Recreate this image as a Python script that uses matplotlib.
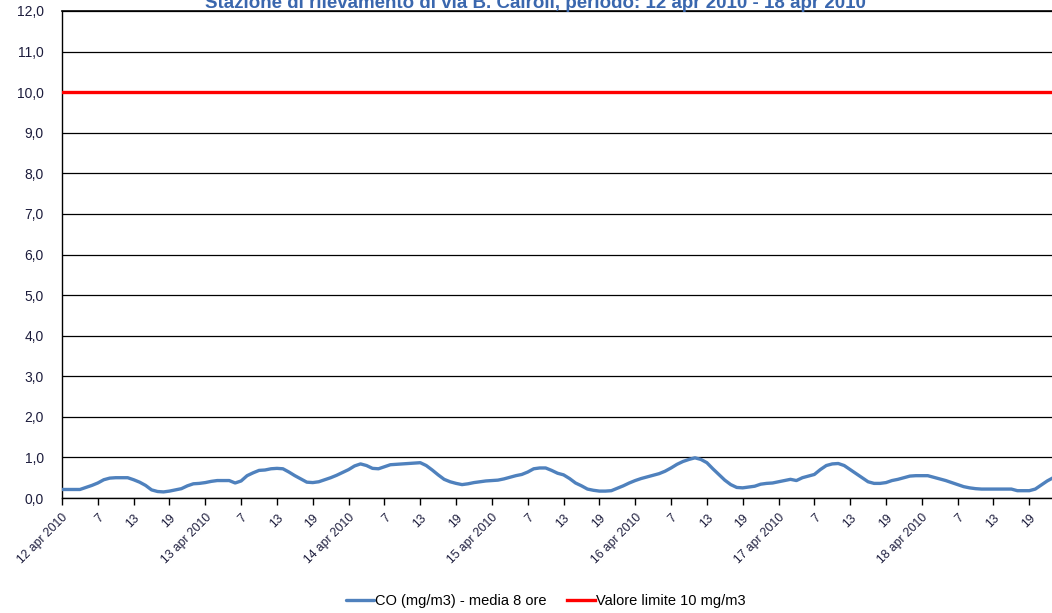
import numpy as np
import matplotlib
matplotlib.use("Agg")
import matplotlib.pyplot as plt
import matplotlib.ticker as mticker

# hourly CO 8-hour moving average (mg/m3), 12 apr 2010 01:00 onwards
co_values = [
    0.21, 0.21, 0.21, 0.21, 0.26, 0.31, 0.37, 0.45, 0.49, 0.50, 0.50, 0.50,
    0.45, 0.39, 0.31, 0.20, 0.16, 0.15, 0.17, 0.20, 0.23, 0.30, 0.35, 0.36,
    0.38, 0.41, 0.43, 0.43, 0.43, 0.37, 0.42, 0.55, 0.62, 0.68, 0.69, 0.72,
    0.73, 0.72, 0.64, 0.55, 0.47, 0.39, 0.38, 0.40, 0.45, 0.50, 0.56, 0.63,
    0.70, 0.79, 0.84, 0.80, 0.73, 0.72, 0.77, 0.82, 0.83, 0.84, 0.85, 0.86,
    0.87, 0.80, 0.69, 0.57, 0.46, 0.40, 0.36, 0.33, 0.35, 0.38, 0.40, 0.42,
    0.43, 0.44, 0.47, 0.51, 0.55, 0.58, 0.64, 0.72, 0.74, 0.74, 0.68, 0.61,
    0.57, 0.48, 0.37, 0.30, 0.22, 0.19, 0.17, 0.17, 0.18, 0.24, 0.30, 0.37,
    0.43, 0.48, 0.52, 0.56, 0.60, 0.66, 0.74, 0.83, 0.90, 0.95, 0.99, 0.95,
    0.87, 0.72, 0.58, 0.44, 0.33, 0.26, 0.25, 0.27, 0.29, 0.34, 0.36, 0.37,
    0.40, 0.43, 0.46, 0.43, 0.50, 0.54, 0.58, 0.70, 0.80, 0.84, 0.85, 0.80,
    0.70, 0.60, 0.50, 0.40, 0.36, 0.36, 0.38, 0.43, 0.46, 0.50, 0.54, 0.55,
    0.55, 0.55, 0.51, 0.47, 0.43, 0.38, 0.33, 0.28, 0.25, 0.23, 0.22, 0.22,
    0.22, 0.22, 0.22, 0.22, 0.18, 0.18, 0.18, 0.22, 0.32, 0.42, 0.50,
]
limit_value = 10.0

days = ["12 apr 2010", "13 apr 2010", "14 apr 2010", "15 apr 2010",
        "16 apr 2010", "17 apr 2010", "18 apr 2010"]
hour_labels = ["7", "13", "19"]

series_label = "CO (mg/m3) - media 8 ore"
limit_label = "Valore limite 10 mg/m3"
title = "Stazione di rilevamento di via B. Cairoli, periodo: 12 apr 2010 - 18 apr 2010"

plt.rcParams['font.family'] = ['Liberation Sans', 'DejaVu Sans']
text_color = '#1c1c3c'

fig = plt.figure(figsize=(10.52, 6.13), dpi=100)
ax = fig.add_axes([62 / 1052, 115 / 613, 1 - 62 / 1052, 487 / 613])

x = np.arange(len(co_values))
ax.plot(x, co_values, color='#4F81BD', linewidth=2.4, label=series_label,
        solid_capstyle='round', zorder=4)
ax.axhline(limit_value, color='#FF0000', linewidth=2.4, label=limit_label, zorder=3)

ax.set_ylim(0, 12)
ax.set_xlim(0, 165.8)
ax.yaxis.set_major_locator(mticker.MultipleLocator(1))
ax.yaxis.set_major_formatter(mticker.FuncFormatter(lambda v, _: f"{v:.1f}".replace('.', ',')))
ax.grid(True, axis='y', color='black', linewidth=0.9, zorder=1)
ax.set_axisbelow(True)

tick_pos = []
tick_lab = []
for d, day in enumerate(days):
    tick_pos.append(d * 24)
    tick_lab.append(day)
    for k, h in enumerate(hour_labels):
        tick_pos.append(d * 24 + 6 * (k + 1))
        tick_lab.append(h)
ax.set_xticks(tick_pos)
ax.set_xticklabels(tick_lab, rotation=45, ha='right', rotation_mode='anchor')

ax.tick_params(axis='x', direction='out', length=5, width=1, colors='black',
               labelcolor=text_color, labelsize=8.7, pad=5)
ax.tick_params(axis='y', length=0, labelcolor=text_color, labelsize=10, pad=13)

ax.spines['right'].set_visible(False)
ax.spines['top'].set_linewidth(1.2)
ax.spines['left'].set_linewidth(1.0)
ax.spines['bottom'].set_linewidth(1.0)

fig.text(535 / 1052, 1 - 8 / 613, title, ha='center', va='baseline',
         fontsize=13.5, fontweight='bold', color='#3A67AE')

fig.legend(loc='center', bbox_to_anchor=(546 / 1052, 1 - 601 / 613), ncol=2,
           frameon=False, fontsize=10.5, handlelength=1.9, handletextpad=0.1,
           columnspacing=1.4, labelcolor='black')

fig.savefig('out.png', dpi=100)
